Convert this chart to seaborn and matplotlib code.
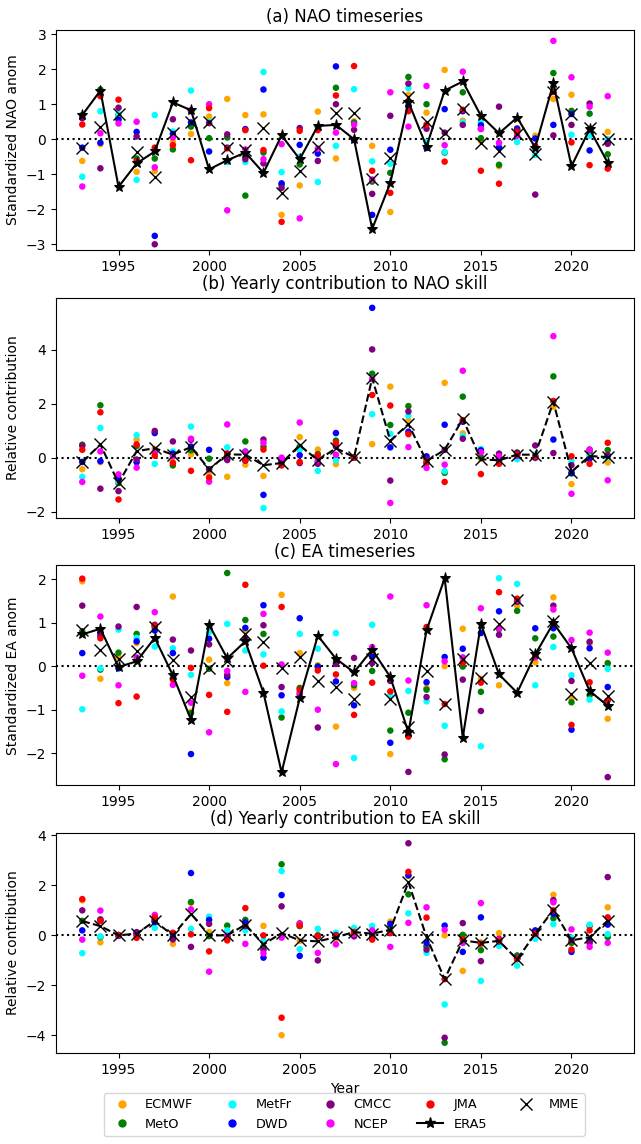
import matplotlib

matplotlib.use("Agg")

import matplotlib.pyplot as plt
import numpy as np
import pandas as pd
import seaborn as sns
from matplotlib.lines import Line2D

years = list(range(1993, 2023))
models = ["ECMWF", "MetO", "MetFr", "DWD", "CMCC", "NCEP", "JMA"]
colors = ["orange", "green", "cyan", "blue", "purple", "magenta", "red"]

# (a) NAO standardized anomalies
nao = {
    "ECMWF": [-0.62, -0.14, 0.60, -0.93, -0.91, -0.08, 0.15, 0.65, 1.15, 0.69, 0.71, -2.16, -1.32, 0.79, -0.55,
              0.51, -0.19, -2.08, 1.27, 0.76, 1.98, 0.53, -0.05, -0.77, 0.32, 0.10, 1.15, 1.27, 0.30, 0.21],
    "MetO": [0.69, 1.42, 0.69, -0.55, -0.55, -0.29, 0.36, 0.03, 0.05, -1.61, -0.38, -1.30, -0.72, 0.35, 1.47,
             0.48, -1.21, -0.96, 1.78, 1.00, -0.38, 1.34, 0.03, -0.73, 0.26, -0.24, 1.89, 0.81, 0.73, -0.43],
    "MetFr": [-1.07, 0.80, 0.72, -1.16, 0.69, 0.22, 1.39, 0.50, -0.65, -0.65, 1.92, -0.94, -0.50, -1.22, -0.19,
              1.43, -0.63, -0.70, 1.46, -0.08, -0.36, 0.48, 0.48, -0.20, -0.08, -0.45, 1.39, 0.13, 0.10, 0.00],
    "DWD": [-0.24, -0.10, 0.56, 0.21, -2.76, 0.15, 0.48, -0.35, -0.24, 0.29, 1.42, -1.26, -0.16, -0.41, 2.08,
            -0.02, -2.16, -0.30, 0.93, -0.25, 0.86, 0.80, 0.40, -0.24, 0.30, 0.02, 0.41, 0.72, -0.32, -0.10],
    "CMCC": [0.60, -0.83, 0.90, 0.08, -3.00, 0.57, 0.80, 0.46, 0.14, -0.57, -0.69, -1.39, 0.32, -0.62, 1.00,
             0.27, -1.56, 0.67, 1.59, 0.30, 0.19, 0.41, 0.30, 0.93, 0.25, -1.58, 0.11, 0.41, 1.02, -0.13],
    "NCEP": [-1.35, 0.17, 0.45, 0.50, -0.80, 0.05, 0.83, 1.00, -2.03, -0.29, -0.57, -0.14, -2.26, -0.27, 0.19,
             0.42, -1.15, 1.34, 0.36, 1.52, -0.17, 1.93, 0.29, -0.10, 0.10, -0.20, 2.81, 1.77, 0.93, 1.23],
    "JMA": [0.42, 1.23, 1.13, -0.62, -0.24, -0.17, -0.60, 0.89, -0.26, 0.26, -0.31, -2.36, 0.24, 0.26, 1.25,
            2.09, -0.90, -1.53, 0.80, 0.42, -0.64, 0.84, -0.90, -1.27, 0.20, -0.20, 1.35, -0.09, -0.74, -0.84],
}
nao_era5 = [0.69, 1.39, -1.36, -0.69, -0.35, 1.05, 0.83, -0.86, -0.60, -0.38, -0.96, 0.11, -0.57, 0.38, 0.41,
            0.00, -2.56, -1.25, 1.07, -0.21, 1.39, 1.65, 0.67, 0.17, 0.62, -0.24, 1.60, -0.77, 0.29, -0.67]
nao_mme = [-0.24, 0.36, 0.72, -0.36, -1.08, 0.17, 0.48, 0.48, -0.24, -0.31, 0.31, -1.53, -0.91, -0.21, 0.75,
           0.74, -1.13, -0.53, 1.22, 0.50, 0.19, 0.86, -0.10, -0.35, 0.14, -0.43, 1.34, 0.72, 0.31, 0.00]

# (b) yearly contribution to NAO skill
nao_contrib = {
    "ECMWF": [-0.43, -0.17, -0.82, 0.67, 0.32, -0.16, 0.12, -0.59, -0.71, -0.26, -0.68, -0.24, 0.76, 0.30, -0.24,
              0.00, 0.50, 2.63, 1.37, -0.16, 2.77, 0.90, -0.04, -0.13, 0.20, -0.02, 1.89, -0.98, 0.09, -0.18],
    "MetO": [0.48, 1.94, -0.94, 0.43, 0.19, -0.29, 0.27, -0.04, -0.03, 0.60, 0.41, -0.14, 0.40, 0.13, 0.63,
             0.00, 3.11, 1.21, 1.91, -0.21, -0.56, 2.26, 0.02, -0.12, 0.12, 0.06, 3.01, -0.59, 0.21, 0.28],
    "MetFr": [-0.71, 1.10, -0.89, 0.83, -0.23, 0.23, 1.15, -0.43, 0.38, 0.24, -1.87, -0.10, 0.29, -0.49, -0.10,
              0.00, 1.61, 0.88, 1.55, 0.02, -0.50, 0.80, 0.32, -0.03, -0.06, 0.12, 2.07, -0.13, 0.03, 0.00],
    "DWD": [-0.16, -0.13, -0.77, -0.17, 0.91, 0.15, 0.41, 0.29, 0.14, -0.11, -1.38, -0.14, 0.09, -0.16, 0.91,
            0.00, 5.55, 0.38, 0.96, 0.05, 1.22, 1.33, 0.27, -0.04, 0.18, 0.00, 0.67, -0.56, -0.04, 0.07],
    "CMCC": [0.44, -1.15, -1.24, -0.07, 0.99, 0.60, 0.66, -0.43, -0.09, 0.22, 0.67, -0.15, -0.20, -0.23, 0.41,
             0.00, 4.01, -0.85, 1.71, -0.06, 0.29, 0.70, 0.20, 0.15, 0.15, 0.45, 0.17, -0.28, 0.30, 0.09],
    "NCEP": [-0.90, 0.23, -0.62, -0.37, 0.21, 0.05, 0.70, -0.89, 1.23, 0.21, 0.55, 0.00, 1.30, -0.10, 0.11,
             0.00, 2.91, -1.68, 0.39, -0.38, -0.26, 3.22, 0.20, 0.05, 0.06, 0.05, 4.50, -1.34, 0.29, -0.84],
    "JMA": [0.29, 1.68, -1.55, 0.49, 0.07, -0.20, -0.49, -0.74, 0.15, -0.10, 0.30, -0.29, -0.16, 0.09, 0.55,
            0.00, 2.32, 1.93, 0.87, -0.17, -0.90, 1.39, -0.61, -0.23, 0.12, 0.05, 2.10, 0.05, -0.23, 0.55],
}
nao_contrib_mme = [-0.16, 0.49, -0.95, 0.24, 0.35, 0.11, 0.39, -0.43, 0.12, 0.11, -0.28, -0.20, 0.46, -0.10, 0.35,
                   0.02, 2.95, 0.63, 1.24, -0.13, 0.29, 1.43, -0.06, -0.10, 0.11, 0.11, 2.07, -0.52, 0.06, 0.02]

# (c) EA standardized anomalies
ea = {
    "ECMWF": [1.95, -0.29, 0.21, 0.53, 0.90, 1.60, -1.05, 0.15, -0.39, 0.82, -0.62, 1.64, 0.30, 0.02, -1.39,
              -0.50, 0.30, -2.02, -1.55, -0.50, 0.00, 0.86, -0.29, -0.44, 1.39, 0.09, 1.58, -0.74, 0.52, -1.21],
    "MetO": [0.80, -0.08, 0.31, 0.74, 0.90, -0.28, -1.08, -0.06, 2.14, 1.06, 0.74, -1.18, -0.50, 0.00, 0.10,
             -0.44, -0.11, -1.48, -1.07, -0.54, -2.14, -0.01, -0.59, 0.85, 1.27, 0.64, 0.68, -0.83, -0.67, 0.07],
    "MetFr": [-0.99, -0.05, 0.84, 0.65, 0.45, 0.41, -0.20, 0.78, 0.97, 0.36, 0.27, -1.04, 0.74, 0.40, 0.76,
              -2.11, 0.95, -0.67, -0.57, -0.81, -1.37, 0.20, -1.84, 2.02, 1.89, -0.44, 0.44, -0.21, -0.77, -0.06],
    "DWD": [0.30, 0.70, -0.05, 0.57, 0.82, 0.30, -2.02, 0.63, -0.25, 0.88, 1.40, -0.67, 1.10, -0.02, -0.35,
            -0.90, 0.21, -1.76, -1.60, -0.37, 0.21, 0.40, 0.76, 1.26, 1.50, 0.87, 0.87, -1.46, 0.41, -0.48],
    "CMCC": [1.39, 0.78, 0.91, 1.36, 0.95, 0.61, 0.36, 0.50, -0.20, 0.65, 0.94, -0.48, -0.65, -1.41, 0.05,
             0.19, 0.07, -0.34, -2.43, -0.71, -2.03, -0.31, -1.03, 0.72, 1.48, 0.25, 1.39, -0.34, 0.56, -2.55],
    "NCEP": [-0.22, 1.14, -0.44, 0.20, 1.24, -0.43, -0.84, -1.52, -0.11, -0.59, 1.20, 0.04, -0.60, -1.00, -2.25,
             -0.39, 0.44, 1.60, -0.33, 1.40, 0.11, 0.20, 1.33, 0.87, 1.52, 0.20, 1.30, 0.60, 0.77, 0.31],
    "JMA": [2.01, 0.64, -0.85, -0.70, 0.93, -0.31, -0.04, -0.66, -1.05, 1.87, 0.01, 1.36, -0.54, -0.10, -0.19,
            -1.12, -0.38, -0.58, -1.62, 0.90, -0.87, 0.08, -0.38, 1.70, 1.55, 0.25, 1.00, -1.35, -0.37, -0.79],
}
ea_era5 = [0.73, 0.86, -0.02, 0.11, 0.65, -0.21, -1.23, 0.95, 0.18, 0.57, -0.61, -2.44, -0.74, 0.70, 0.17,
           -0.14, 0.38, -0.25, -1.52, 0.82, 2.02, -1.64, 0.97, -0.19, -0.61, 0.27, 0.99, 0.41, -0.57, -0.91]
ea_mme = [0.84, 0.38, 0.17, 0.34, 0.91, 0.15, -0.70, -0.04, 0.12, 0.73, 0.56, -0.05, 0.21, -0.33, -0.48,
          -0.75, 0.17, -0.75, -1.40, -0.11, -0.87, 0.17, -0.27, 0.97, 1.51, 0.27, 1.03, -0.64, 0.07, -0.68]

# (d) yearly contribution to EA skill
ea_contrib = {
    "ECMWF": [1.40, -0.28, 0.00, 0.05, 0.58, -0.34, 1.30, 0.13, -0.07, 0.47, 0.38, -3.99, -0.22, 0.01, -0.15,
              0.06, 0.11, 0.55, 2.37, -0.45, 0.00, -1.42, -0.28, 0.09, -0.92, 0.02, 1.62, -0.30, -0.30, 1.12],
    "MetO": [0.58, -0.07, -0.01, 0.08, 0.58, 0.06, 1.33, -0.03, 0.39, 0.62, -0.45, 2.84, 0.37, 0.00, 0.02,
             0.06, -0.04, 0.33, 1.64, -0.44, -4.29, 0.02, -0.59, -0.16, -0.80, 0.17, 0.68, -0.30, 0.38, -0.07],
    "MetFr": [-0.71, -0.04, -0.02, 0.07, 0.30, -0.09, 0.26, 0.75, 0.20, 0.20, -0.20, 2.57, -0.55, 0.26, 0.11,
              0.30, 0.38, 0.17, 0.88, -0.70, -2.76, -0.30, -1.82, -0.42, -1.21, -0.14, 0.45, -0.09, 0.43, 0.05],
    "DWD": [0.20, 0.60, 0.00, 0.06, 0.53, -0.06, 2.49, 0.62, -0.05, 0.52, -0.89, 1.61, -0.82, -0.03, -0.06,
            0.13, 0.08, 0.46, 2.40, -0.30, 0.39, -0.66, 0.72, -0.24, -0.92, 0.20, 0.86, -0.66, -0.20, 0.43],
    "CMCC": [1.00, 0.64, -0.02, 0.13, 0.62, -0.16, -0.46, 0.46, -0.04, 0.37, -0.58, 1.16, 0.48, -1.00, 0.01,
             -0.04, 0.03, 0.09, 3.68, -0.57, -4.09, 0.49, -1.03, -0.14, -0.90, 0.07, 1.41, -0.20, -0.30, 2.33],
    "NCEP": [-0.17, 0.99, 0.01, 0.02, 0.82, 0.10, 1.04, -1.45, -0.02, -0.34, -0.72, -0.09, 0.46, -0.70, -0.36,
             0.05, 0.20, -0.46, 0.50, 1.12, 0.22, -0.30, 1.29, -0.17, -0.93, 0.05, 1.32, 0.24, -0.46, -0.30],
    "JMA": [1.45, 0.57, 0.02, -0.10, 0.72, 0.10, 0.04, -0.64, -0.20, 1.09, 0.00, -3.29, 0.39, -0.03, -0.03,
            0.13, -0.17, 0.11, 2.54, 0.71, -1.75, -0.16, -0.33, -0.22, -0.95, 0.07, 1.00, -0.57, 0.20, 0.72],
}
ea_contrib_mme = [0.57, 0.37, 0.00, 0.07, 0.57, 0.00, 0.86, 0.00, 0.00, 0.43, -0.36, 0.09, -0.20, -0.24, -0.07,
                  0.13, 0.07, 0.22, 2.13, -0.07, -1.75, -0.20, -0.30, -0.22, -0.96, 0.07, 1.01, -0.20, -0.07, 0.59]

palette = dict(zip(models, colors))


def _long(table):
    df = pd.DataFrame(table)
    df["year"] = years
    return df.melt(id_vars="year", var_name="model", value_name="value")


def draw_models(ax, table):
    sns.scatterplot(data=_long(table), x="year", y="value", hue="model", hue_order=models,
                    palette=palette, s=22, linewidth=0, legend=False, ax=ax, zorder=2)
    ax.axhline(0, color="black", linestyle=":", linewidth=1.5, zorder=1)


fig, axes = plt.subplots(4, 1, figsize=(6.41, 11.44), dpi=100)
fig.subplots_adjust(left=56 / 641, right=634 / 641, top=1 - 30 / 1144, bottom=1 - 1053 / 1144, hspace=0.215)

# (a)
ax = axes[0]
draw_models(ax, nao)
sns.lineplot(x=years, y=nao_era5, color="black", marker="*", markersize=8, markeredgecolor="black",
             linewidth=1.5, ax=ax, zorder=3)
ax.plot(years, nao_mme, "x", color="black", markersize=8, zorder=4)
ax.set_ylim(-3.17, 3.12)
ax.set_ylabel("Standardized NAO anom")
ax.set_title("(a) NAO timeseries")

# (b)
ax = axes[1]
draw_models(ax, nao_contrib)
ax.plot(years, nao_contrib_mme, "x--", color="black", markersize=8, linewidth=1.5, zorder=4)
ax.set_ylim(-2.23, 5.93)
ax.set_ylabel("Relative contribution")
ax.set_title("(b) Yearly contribution to NAO skill")

# (c)
ax = axes[2]
draw_models(ax, ea)
sns.lineplot(x=years, y=ea_era5, color="black", marker="*", markersize=8, markeredgecolor="black",
             linewidth=1.5, ax=ax, zorder=3)
ax.plot(years, ea_mme, "x", color="black", markersize=8, zorder=4)
ax.set_ylim(-2.74, 2.32)
ax.set_ylabel("Standardized EA anom")
ax.set_title("(c) EA timeseries")

# (d)
ax = axes[3]
draw_models(ax, ea_contrib)
ax.plot(years, ea_contrib_mme, "x--", color="black", markersize=8, linewidth=1.5, zorder=4)
ax.set_ylim(-4.7, 4.1)
ax.set_ylabel("Relative contribution")
ax.set_xlabel("Year")
ax.set_title("(d) Yearly contribution to EA skill")

for ax in axes:
    ax.set_xlim(1991.55, 2023.45)
    ax.set_xticks([1995, 2000, 2005, 2010, 2015, 2020])
    if ax is not axes[3]:
        ax.set_xlabel("")

handles = [Line2D([], [], linestyle="", marker="o", color=c, markersize=5, label=m)
           for m, c in zip(models, colors)]
handles.append(Line2D([], [], color="black", marker="*", markersize=8, linewidth=1.5, label="ERA5"))
handles.append(Line2D([], [], color="black", marker="x", linestyle="", markersize=9, label="MME"))
fig.legend(handles=handles, loc="lower center", bbox_to_anchor=(0.537, 0.0015), ncol=5, fontsize=9.3)

fig.savefig("out.png", dpi=100)
